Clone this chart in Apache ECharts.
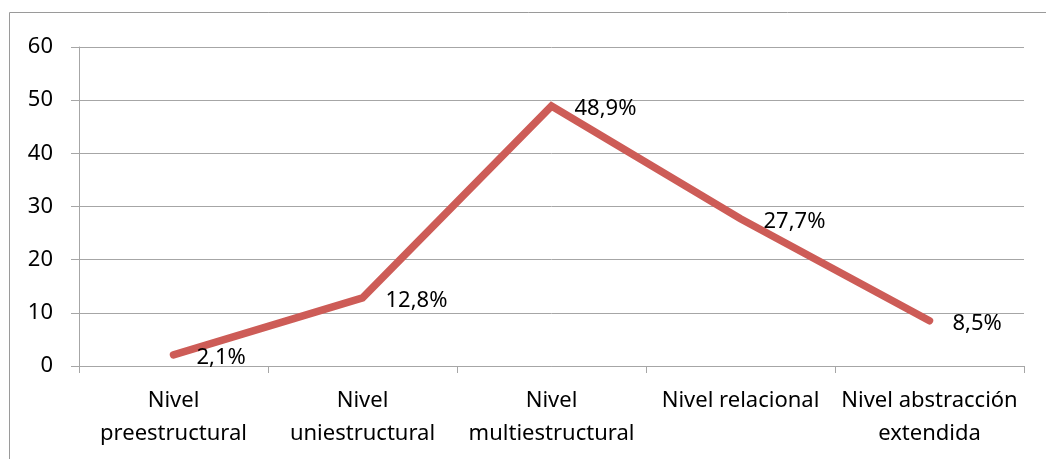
<!DOCTYPE html>
<html>
<head>
<meta charset="utf-8">
<script src="https://cdn.jsdelivr.net/npm/echarts@6/dist/echarts.min.js"></script>
<style>
  html, body { margin: 0; padding: 0; background: #fff; }
  #chart { width: 1046px; height: 459px; }
</style>
</head>
<body>
<div id="chart"></div>
<script>
// Levels of the SOLO taxonomy and share of responses at each level (%)
const categories = [
  'Nivel\npreestructural',
  'Nivel\nuniestructural',
  'Nivel\nmultiestructural',
  'Nivel relacional',
  'Nivel abstracción\nextendida'
];
const values = [2.1, 12.8, 48.9, 27.7, 8.5];
const yTicks = { min: 0, max: 60, interval: 10 };

const FONT = '"Noto Sans", "Open Sans", sans-serif';
const AXIS_GREY = '#a6a6a6';
const LINE_RED = '#cd5c57';

const chart = echarts.init(document.getElementById('chart'), null, { renderer: 'canvas' });
chart.setOption({
  animation: false,
  backgroundColor: '#fff',
  graphic: [{
    type: 'rect',
    shape: { x: 9.5, y: 12.5, width: 1100, height: 500 },
    style: { fill: 'none', stroke: '#9a9a9a', lineWidth: 1 },
    silent: true
  }],
  grid: { left: 79, right: 22, top: 47, bottom: 93, containLabel: false },
  xAxis: {
    type: 'category',
    data: categories,
    boundaryGap: true,
    axisLine: { lineStyle: { color: AXIS_GREY, width: 1 } },
    axisTick: { show: true, alignWithLabel: false, length: 7, lineStyle: { color: AXIS_GREY } },
    axisLabel: {
      color: '#000', fontFamily: FONT, fontSize: 22, lineHeight: 33,
      margin: 18, interval: 0, align: 'center'
    },
    splitLine: { show: false }
  },
  yAxis: {
    type: 'value',
    min: yTicks.min, max: yTicks.max, interval: yTicks.interval,
    axisLine: { show: true, lineStyle: { color: AXIS_GREY, width: 1 } },
    axisTick: { show: true, length: 8, lineStyle: { color: AXIS_GREY } },
    axisLabel: { color: '#000', fontFamily: FONT, fontSize: 22, margin: 26 },
    splitLine: { show: true, lineStyle: { color: AXIS_GREY, width: 1 } }
  },
  series: [{
    type: 'line',
    data: values,
    symbol: 'circle',
    symbolSize: 2,
    showSymbol: true,
    lineStyle: { color: LINE_RED, width: 7.5, cap: 'round', join: 'miter' },
    itemStyle: { color: 'rgba(0,0,0,0)', borderWidth: 0 },
    label: {
      show: true,
      position: 'right',
      distance: 22,
      offset: [0, 3],
      color: '#000',
      opacity: 1,
      fontFamily: FONT,
      fontSize: 22,
      formatter: p => String(p.value).replace('.', ',') + '%'
    },
    z: 3
  }]
});
</script>
</body>
</html>
